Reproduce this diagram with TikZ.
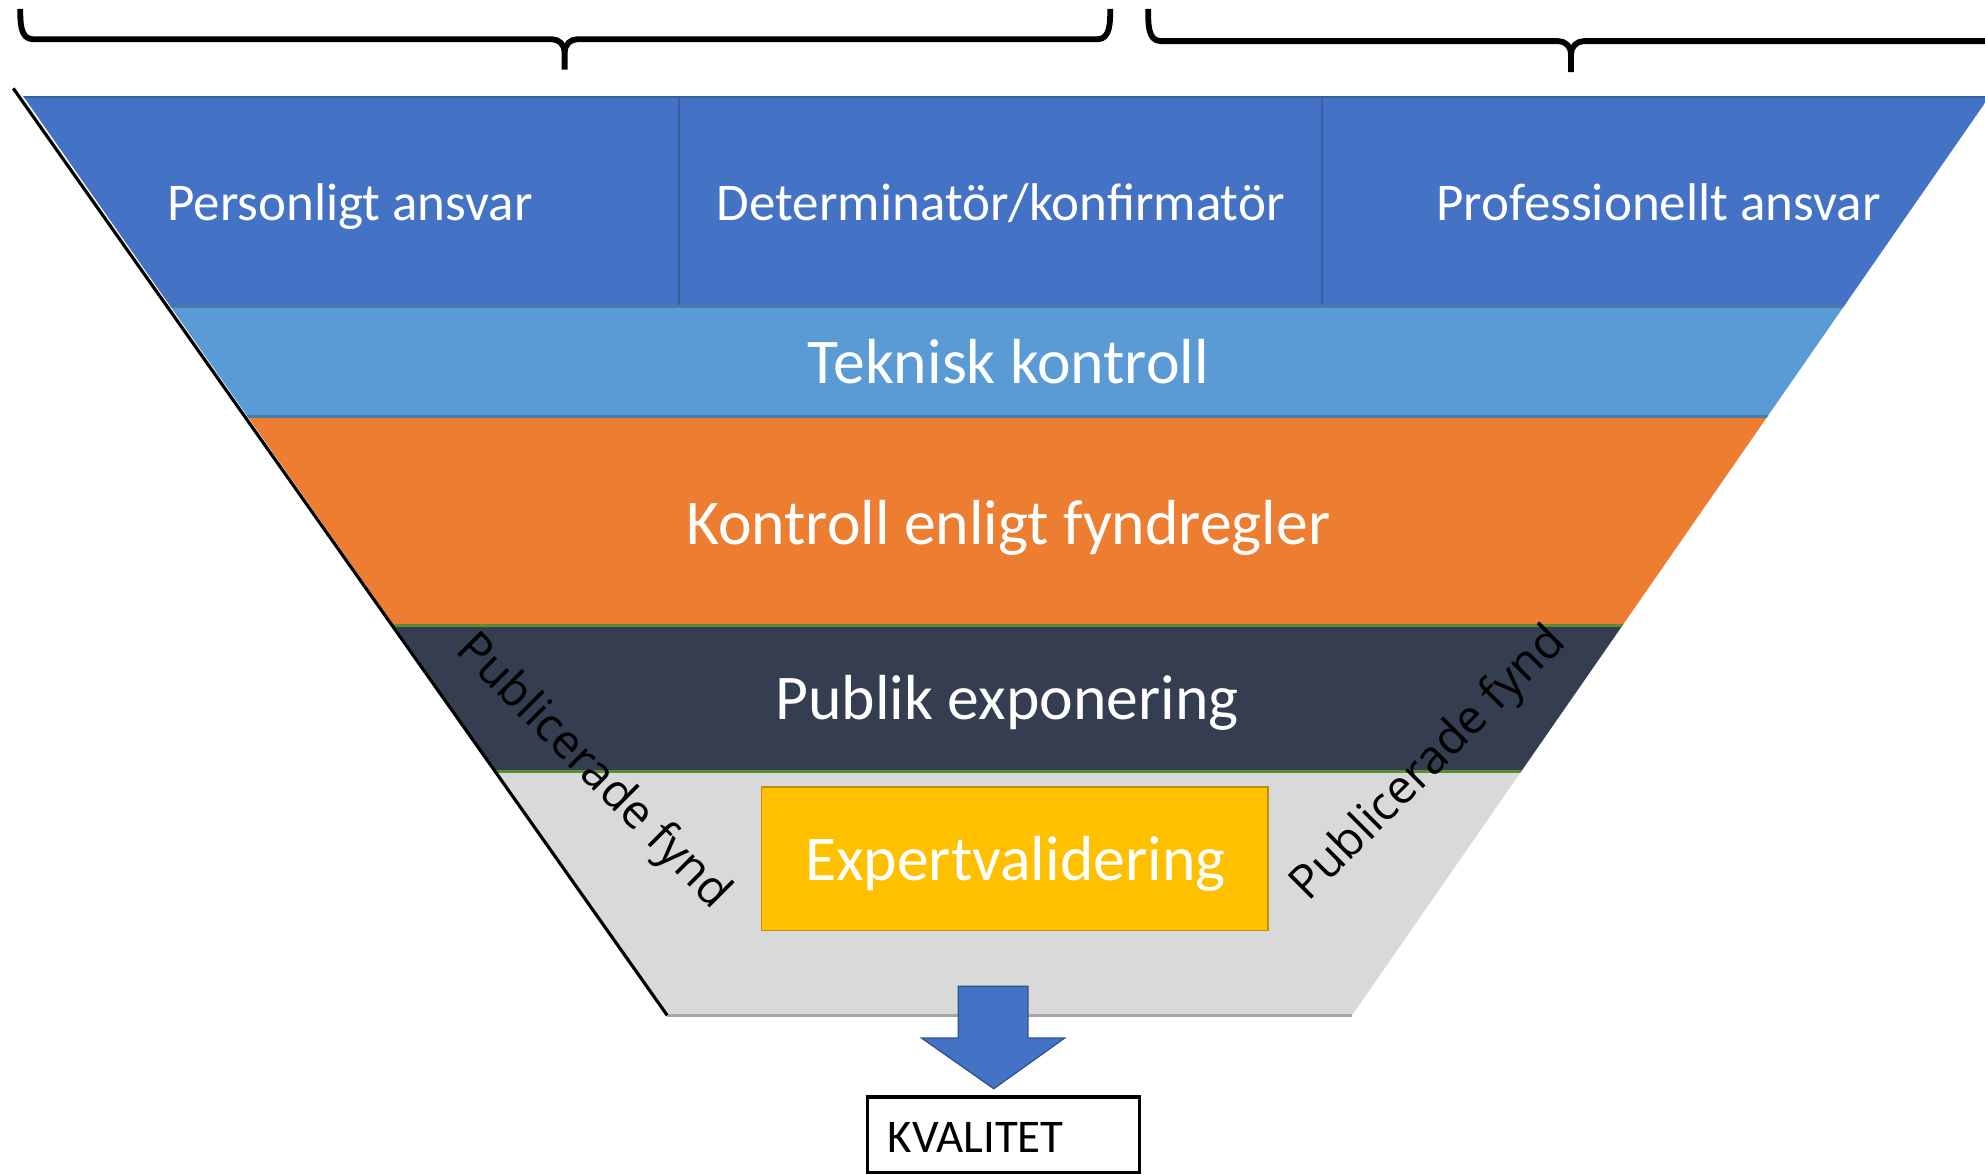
\documentclass[tikz,border=0pt]{standalone}
\usepackage{fontspec}
\setmainfont{Carlito}
\newfontfamily\pubfont{Open Sans}
\definecolor{topblue}{HTML}{4472C4}
\definecolor{topline}{HTML}{3A5E9E}
\definecolor{lightblue}{HTML}{5B9BD5}
\definecolor{lbline}{HTML}{4A7CAA}
\definecolor{orng}{HTML}{ED7D31}
\definecolor{darkband}{HTML}{343E50}
\definecolor{grayband}{HTML}{D9D9D9}
\definecolor{grayline}{HTML}{A6A6A6}
\definecolor{gold}{HTML}{FFC000}
\definecolor{goldline}{HTML}{BF9000}
\definecolor{greenline}{HTML}{5B8C37}
\definecolor{arrowline}{HTML}{2F528F}
\tikzset{
  bigtext/.style={text=white, inner sep=0pt, font=\fontsize{50.3}{56}\selectfont},
  toptext/.style={text=white, inner sep=0pt, font=\fontsize{41.9}{48}\selectfont},
  pubtext/.style={text=black, inner sep=0pt, font=\pubfont\fontsize{37}{42}\selectfont},
  bracestyle/.style={line width=4.6pt, line cap=butt, line join=round},
}
\begin{document}
\begin{tikzpicture}[x=1pt,y=-1pt]
\useasboundingbox (0,0) rectangle (1568,928);
% funnel bands
\begin{scope}
  \clip (18,75.5) -- (1572,75.5) -- (1068,802) -- (527,802) -- cycle;
  \fill[topblue] (0,75.5) rectangle (1600,242);
  \fill[lightblue] (0,242) rectangle (1600,329.5);
  \fill[orng] (0,329.5) rectangle (1600,494);
  \fill[darkband] (0,494) rectangle (1600,609.5);
  \fill[grayband] (0,609.5) rectangle (1600,802);
  \draw[topline, line width=2pt] (0,76.5) -- (1600,76.5);
  \draw[topline, line width=1.5pt] (536,75.5) -- (536,242);
  \draw[topline, line width=1.5pt] (1044,75.5) -- (1044,242);
  \draw[lbline, line width=2pt] (0,242) -- (1600,242);
  \draw[lbline, line width=2pt] (0,329) -- (1600,329);
  \draw[greenline, line width=2pt] (0,494) -- (1600,494);
  \draw[greenline, line width=2pt] (0,609.5) -- (1600,609.5);
\end{scope}
\coordinate (bl) at (527,802);
\coordinate (br) at (1068,802);
\coordinate (tl) at (10.5,69.8);
\draw[grayline, line width=2pt] (bl) -- (br);
\draw[black, line width=2.5pt] (tl) -- (bl);
% braces
\draw[bracestyle] (16,7) to[out=-90,in=180] (26,31) -- (436,31)
   to[out=0,in=90] (446,41) -- (446,55);
\draw[bracestyle] (446,41) to[out=90,in=180] (456,31) -- (867,31)
   to[out=0,in=-90] (877,7);
\draw[bracestyle] (907,7) to[out=-90,in=180] (917,32.5) -- (1231,32.5)
   to[out=0,in=90] (1241,42.5) -- (1241,57);
\draw[bracestyle] (1241,42.5) to[out=90,in=180] (1251,32.5) -- (1600,32.5);
% top labels
\node[toptext, anchor=base] (pers) at (276.5,174) {Personligt ansvar};
\node[toptext, anchor=base] (det) at (790.5,174) {Determinatör/konfirmatör};
\node[toptext, anchor=base] (prof) at (1310,174) {Professionellt ansvar};
% band labels
\node[bigtext, anchor=base] (tek) at (796.5,303) {Teknisk kontroll};
\node[bigtext, anchor=base] (kon) at (796.5,430) {Kontroll enligt fyndregler};
\node[bigtext, anchor=base] (pub) at (795.5,568) {Publik exponering};
% expert box
\node[draw=goldline, fill=gold, line width=1.5pt, minimum width=400pt, minimum height=113pt, inner sep=0pt] (expbox) at (801.5,678.5) {};
\node[bigtext, anchor=base] (exp) at (802,695.5) {Expertvalidering};
% side labels
\node[pubtext, rotate=-45] (pubL) at (468,610) {Publicerade fynd};
\node[pubtext, rotate=45] (pubR) at (1129,604) {Publicerade fynd};
% arrow
\fill[topblue, draw=arrowline, line width=1pt] (757,779) -- (812,779) -- (812,820) -- (841,820)
   -- (785,860) -- (728,820) -- (757,820) -- cycle;
% result box
\node[draw=black, line width=2.5pt, minimum width=215pt, minimum height=60pt, inner sep=0pt] (kvbox) at (792.5,896.5) {};
\node[text=black, inner sep=0pt, anchor=base west, font=\fontsize{37}{42}\selectfont] (kv) at (701,910) {KVALITET};
\end{tikzpicture}
\end{document}
